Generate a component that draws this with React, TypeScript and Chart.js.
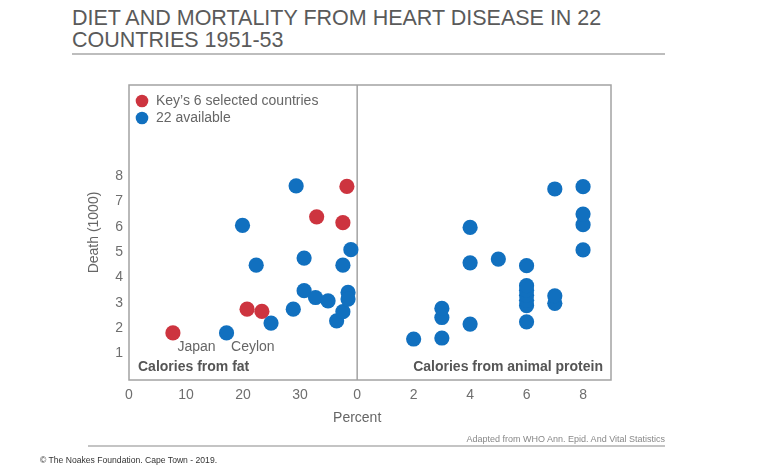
import React, { useEffect, useRef } from "react";
import { Chart, registerables } from "chart.js";

Chart.register(...registerables);

// ---- Data ----
const fatSelected = [7.7, 20.7, 23.3, 32.9, 37.5, 38.2];
const deathSelected = [1.81, 2.75, 2.66, 6.4, 6.17, 7.6];

const fatOthers = [17.1, 19.9, 22.3, 24.9, 28.8, 29.3, 30.7, 30.7, 32.7, 34.9, 36.4, 37.5, 37.5, 38.4, 38.4, 38.9];
const deathOthers = [1.81, 6.06, 4.49, 2.2, 2.75, 7.62, 4.77, 3.48, 3.21, 3.08, 2.29, 2.65, 4.49, 3.41, 3.15, 5.1];

const proteinAll = [2, 3, 3, 3, 4, 4, 4, 5, 6, 6, 6, 6, 6, 6, 6, 7, 7, 7, 8, 8, 8, 8];
const deathProtein = [1.57, 1.61, 2.42, 2.78, 2.16, 4.58, 5.98, 4.73, 2.25, 2.89, 3.1, 3.3, 3.5, 3.68, 4.47, 2.98, 3.28, 7.5, 5.09, 6.09, 6.51, 7.59];

const fatTicks = [0, 10, 20, 30];
const proteinTicks = [0, 2, 4, 6, 8];
const deathTicks = [1, 2, 3, 4, 5, 6, 7, 8];

const annotatedCountries = [
  { name: "Japan", fat: 7.7, death: 1.81 },
  { name: "Ceylon", fat: 17.1, death: 1.81 },
];

// The protein panel shares one axis with the fat panel
const PROTEIN_OFFSET = 40;
const PROTEIN_SCALE = 4.95;
const toAxis = (p: number) => PROTEIN_OFFSET + p * PROTEIN_SCALE;

const xTickValues = [...fatTicks, ...proteinTicks.map(toAxis)];
const xTickLabels = [...fatTicks, ...proteinTicks].map(String);

const RED = "#CD343F";
const BLUE = "#1170BF";
const FONT = "'Liberation Sans', Arial, sans-serif";

const overlayPlugin = {
  id: "overlay",
  beforeDatasetsDraw(chart: any) {
    const { ctx, chartArea, scales } = chart;
    const { left, top, right, bottom } = chartArea;
    ctx.save();
    ctx.strokeStyle = "#a3a3a3";
    ctx.lineWidth = 1.5;
    ctx.strokeRect(left, top, right - left, bottom - top);
    const dx = scales.x.getPixelForValue(PROTEIN_OFFSET);
    ctx.beginPath();
    ctx.moveTo(dx, top);
    ctx.lineTo(dx, bottom);
    ctx.stroke();
    ctx.restore();
  },
  afterDatasetsDraw(chart: any) {
    const { ctx, chartArea, scales } = chart;
    const { left, top, right, bottom } = chartArea;
    const x = scales.x;
    const y = scales.y;
    ctx.save();
    // legend
    const items = [
      { c: RED, t: "Key\u2019s 6 selected countries" },
      { c: BLUE, t: "22 available" },
    ];
    ctx.font = `14px ${FONT}`;
    ctx.textBaseline = "middle";
    ctx.textAlign = "left";
    items.forEach((it, i) => {
      const cy = top + 16 + i * 17;
      ctx.fillStyle = it.c;
      ctx.beginPath();
      ctx.arc(left + 13, cy, 6.3, 0, Math.PI * 2);
      ctx.fill();
      ctx.fillStyle = "#666";
      ctx.fillText(it.t, left + 27, cy + 0.5);
    });
    // country labels
    ctx.fillStyle = "#666";
    ctx.font = `14px ${FONT}`;
    annotatedCountries.forEach((c) => {
      ctx.fillText(c.name, x.getPixelForValue(c.fat) + 4.5, y.getPixelForValue(c.death) + 14);
    });
    // panel labels
    ctx.fillStyle = "#555";
    ctx.font = `bold 14px ${FONT}`;
    ctx.textAlign = "left";
    ctx.fillText("Calories from fat", left + 9, bottom - 13);
    ctx.textAlign = "right";
    ctx.fillText("Calories from animal protein", right - 8, bottom - 13);
    // axis titles
    ctx.fillStyle = "#666";
    ctx.font = `14px ${FONT}`;
    ctx.textAlign = "center";
    ctx.fillText("Percent", x.getPixelForValue(PROTEIN_OFFSET), bottom + 38);
    ctx.translate(left - 35, (top + bottom) / 2);
    ctx.rotate(-Math.PI / 2);
    ctx.fillText("Death (1000)", 0, 0);
    ctx.restore();
  },
};

export default function App() {
  const canvasRef = useRef<HTMLCanvasElement | null>(null);

  useEffect(() => {
    if (!canvasRef.current) return;
    Chart.defaults.font.family = FONT;
    const pts = (xs: number[], ys: number[]) => xs.map((v, i) => ({ x: v, y: ys[i] }));
    const chart = new Chart(canvasRef.current, {
      type: "scatter",
      data: {
        datasets: [
          {
            label: "22 available (protein)",
            data: pts(proteinAll.map(toAxis), deathProtein),
            backgroundColor: BLUE,
            borderWidth: 0,
            pointRadius: 7.6,
          },
          {
            label: "22 available (fat)",
            data: pts(fatOthers, deathOthers),
            backgroundColor: BLUE,
            borderWidth: 0,
            pointRadius: 7.6,
          },
          {
            label: "Key's 6 selected countries",
            data: pts(fatSelected, deathSelected),
            backgroundColor: RED,
            borderWidth: 0,
            pointRadius: 7.6,
          },
        ],
      },
      options: {
        responsive: false,
        animation: false,
        events: [],
        layout: { padding: { left: 0, top: 85, right: 157, bottom: 0 } },
        plugins: { legend: { display: false }, tooltip: { enabled: false }, title: { display: false } },
        scales: {
          x: {
            type: "linear",
            min: 0,
            max: 84.5,
            grid: { display: false, drawTicks: false },
            border: { display: false },
            afterFit: (s: any) => {
              s.height = 85;
            },
            afterBuildTicks: (s: any) => {
              s.ticks = xTickValues.map((v) => ({ value: v }));
            },
            ticks: {
              padding: 7,
              color: "#6e6e6e",
              font: { size: 14 },
              maxRotation: 0,
              autoSkip: false,
              callback: (_v: any, i: number) => xTickLabels[i],
            },
          },
          y: {
            type: "linear",
            min: -0.05,
            max: 11.61,
            grid: { display: false, drawTicks: false },
            border: { display: false },
            afterFit: (s: any) => {
              s.width = 129;
            },
            afterBuildTicks: (s: any) => {
              s.ticks = deathTicks.map((v) => ({ value: v }));
            },
            ticks: {
              padding: 6,
              color: "#6e6e6e",
              font: { size: 14 },
              callback: (v: any) => String(v),
            },
          },
        },
      },
      plugins: [overlayPlugin],
    });
    return () => chart.destroy();
  }, []);

  return (
    <div
      style={{
        position: "fixed",
        left: 0,
        top: 0,
        width: 768,
        height: 465,
        background: "#fff",
        fontFamily: FONT,
        overflow: "hidden",
      }}
    >
      <div
        style={{
          position: "absolute",
          left: 72,
          top: 7,
          fontSize: 21.5,
          lineHeight: "22px",
          color: "#5a5a5a",
          whiteSpace: "nowrap",
        }}
      >
        DIET AND MORTALITY FROM HEART DISEASE IN 22
        <br />
        COUNTRIES 1951-53
      </div>
      <div style={{ position: "absolute", left: 72, top: 53, width: 593, height: 2, background: "#bdbdbd" }} />
      <canvas
        ref={canvasRef}
        width={768}
        height={465}
        style={{ position: "absolute", left: 0, top: 0, width: 768, height: 465 }}
      />
      <div
        style={{
          position: "absolute",
          left: 365,
          width: 300,
          top: 434,
          fontSize: 9,
          lineHeight: "11px",
          color: "#888",
          textAlign: "right",
          whiteSpace: "nowrap",
        }}
      >
        Adapted from WHO Ann. Epid. And Vital Statistics
      </div>
      <div style={{ position: "absolute", left: 88, top: 445, width: 577, height: 1.5, background: "#c4c4c4" }} />
      <div
        style={{
          position: "absolute",
          left: 40,
          top: 455,
          fontSize: 8.6,
          lineHeight: "10px",
          color: "#333",
          whiteSpace: "nowrap",
        }}
      >
        © The Noakes Foundation. Cape Town - 2019.
      </div>
    </div>
  );
}
